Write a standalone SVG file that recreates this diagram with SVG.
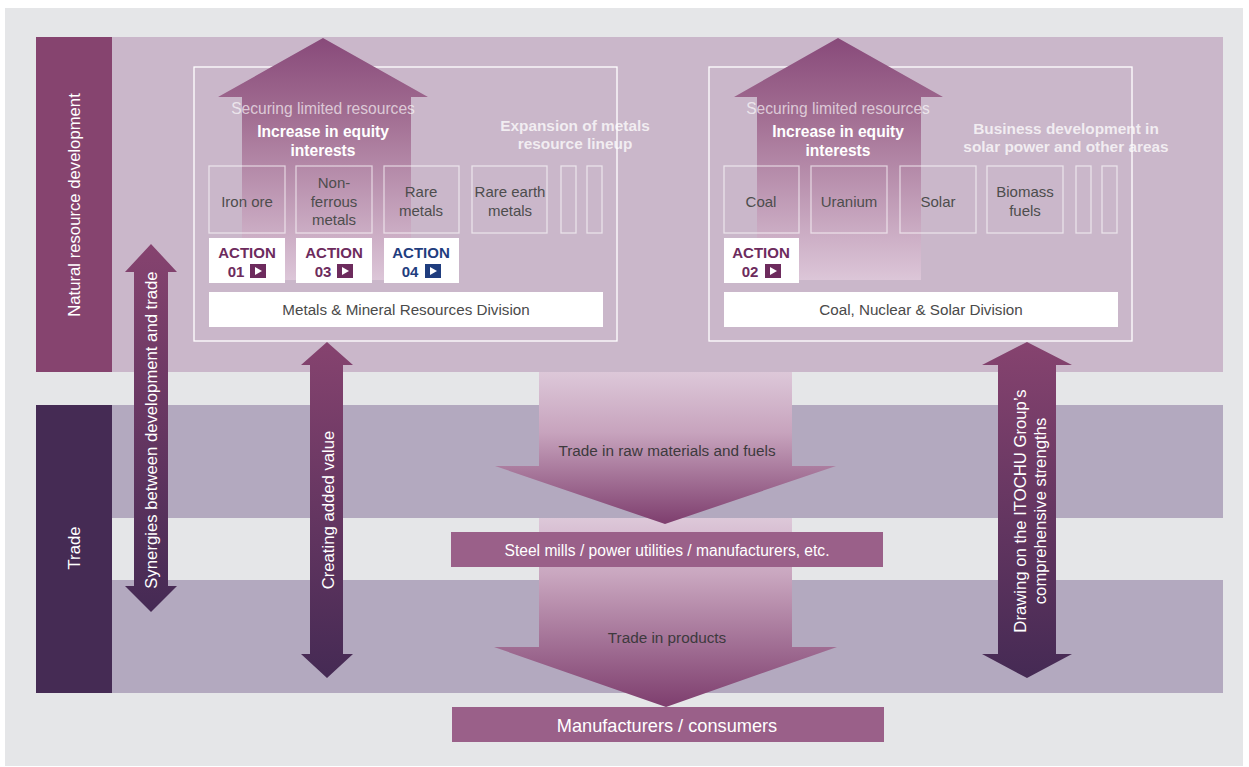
<svg xmlns="http://www.w3.org/2000/svg" width="1249" height="767" viewBox="0 0 1249 767">
<defs>
<style>
text{font-family:"Liberation Sans",Arial,Helvetica,sans-serif}
.lbl{fill:#fff;font-size:15.5px;text-anchor:middle}
.item{fill:#4d4d4d;font-size:15px;text-anchor:middle}
.ibox{fill:none;stroke:#fff;stroke-opacity:.6;stroke-width:1.3}
.frame{fill:none;stroke:#fff;stroke-width:1.3}
.white{fill:#fff}
.act{font-size:15px;font-weight:bold;text-anchor:middle}
.p{fill:#6d2b5d}
.b{fill:#1f3d7e}
.sec{fill:#fff;fill-opacity:.65;font-size:15.6px;text-anchor:middle}
.bold{fill:#fff;font-size:15.6px;font-weight:bold;text-anchor:middle}
.faint{fill:#fff;fill-opacity:.75;font-size:15.4px;font-weight:bold;text-anchor:middle}
.div{fill:#4a4a4a;font-size:15.2px;text-anchor:middle}
.dark{fill:#3d3a3d;font-size:15.3px;text-anchor:middle}
.bar{fill:#9a6089}
.rot{fill:#fff;font-size:16.7px;text-anchor:middle}
</style>
<linearGradient id="upG" x1="0" y1="0" x2="0" y2="1">
<stop offset="0" stop-color="#884a7a"/>
<stop offset="0.3" stop-color="#a06b90"/>
<stop offset="1" stop-color="#dcc6d8"/>
</linearGradient>
<linearGradient id="dnG1" gradientUnits="userSpaceOnUse" x1="0" y1="372" x2="0" y2="524">
<stop offset="0" stop-color="#ddc8d9"/>
<stop offset="0.4" stop-color="#c7a3bd"/>
<stop offset="1" stop-color="#7e3e6e"/>
</linearGradient>
<linearGradient id="dnG2" gradientUnits="userSpaceOnUse" x1="0" y1="518" x2="0" y2="707">
<stop offset="0" stop-color="#ddc8d9"/>
<stop offset="0.3" stop-color="#c9a6bf"/>
<stop offset="1" stop-color="#7e3e6e"/>
</linearGradient>
<linearGradient id="dblG" x1="0" y1="0" x2="0" y2="1">
<stop offset="0" stop-color="#86436f"/>
<stop offset="1" stop-color="#452a54"/>
</linearGradient>
</defs>
<rect width="1249" height="767" fill="#fff"/>
<rect x="5" y="8" width="1238" height="758" fill="#e5e6e8"/>

<g id="band-natural">
<rect x="112" y="37" width="1111" height="335" fill="#cab7ca"/>
<rect x="36" y="37" width="76" height="335" fill="#86446f"/>
<text class="rot" transform="translate(80,205) rotate(-90)">Natural resource development</text>
</g>
<g id="band-trade">
<rect x="112" y="405" width="1111" height="113" fill="#b3a9bf"/>
<rect x="112" y="580" width="1111" height="113" fill="#b3a9bf"/>
<rect x="36" y="405" width="76" height="288" fill="#452b54"/>
<text class="rot" transform="translate(80,548) rotate(-90)">Trade</text>
</g>

<g id="metals-division">
<rect class="frame" x="194" y="67" width="423" height="274"/>
<polygon points="323,38 428,97 411,97 411,280 242,280 242,97 218,97" fill="url(#upG)"/>
<text class="sec" x="323" y="114">Securing limited resources</text>
<text class="bold" x="323" y="137">Increase in equity</text>
<text class="bold" x="323" y="156">interests</text>
<text class="faint" x="575" y="131">Expansion of metals</text>
<text class="faint" x="575" y="149">resource lineup</text>
<rect class="ibox" x="209" y="166" width="76" height="67"/>
<rect class="ibox" x="296" y="166" width="76" height="67"/>
<rect class="ibox" x="384" y="166" width="75" height="67"/>
<rect class="ibox" x="472" y="166" width="75" height="67"/>
<rect class="ibox" x="561" y="166" width="15" height="67"/>
<rect class="ibox" x="587" y="166" width="15" height="67"/>
<text class="item" x="247" y="207">Iron ore</text>
<text class="item" x="334" y="188">Non-</text>
<text class="item" x="334" y="207">ferrous</text>
<text class="item" x="334" y="225">metals</text>
<text class="item" x="421" y="197">Rare</text>
<text class="item" x="421" y="216">metals</text>
<text class="item" x="510" y="197">Rare earth</text>
<text class="item" x="510" y="216">metals</text>
<g id="action01">
<rect class="white" x="209" y="238" width="76" height="45"/>
<text class="act p" x="247" y="258">ACTION</text>
<text class="act p" x="236" y="277">01</text>
<rect class="p" x="250" y="264" width="16" height="14"/>
<polygon class="white" points="255,267 262,271 255,275"/>
</g>
<g id="action03">
<rect class="white" x="296" y="238" width="76" height="45"/>
<text class="act p" x="334" y="258">ACTION</text>
<text class="act p" x="323" y="277">03</text>
<rect class="p" x="337" y="264" width="16" height="14"/>
<polygon class="white" points="342,267 349,271 342,275"/>
</g>
<g id="action04">
<rect class="white" x="384" y="238" width="75" height="45"/>
<text class="act b" x="421" y="258">ACTION</text>
<text class="act b" x="410" y="277">04</text>
<rect class="b" x="425" y="264" width="16" height="14"/>
<polygon class="white" points="430,267 437,271 430,275"/>
</g>
<rect class="white" x="209" y="292" width="394" height="35"/>
<text class="div" x="406" y="315">Metals &amp; Mineral Resources Division</text>
</g>

<g id="coal-division">
<rect class="frame" x="709" y="67" width="423" height="274"/>
<polygon points="838,38 943,97 921,97 921,280 757,280 757,97 734,97" fill="url(#upG)"/>
<text class="sec" x="838" y="114">Securing limited resources</text>
<text class="bold" x="838" y="137">Increase in equity</text>
<text class="bold" x="838" y="156">interests</text>
<text class="faint" x="1066" y="134">Business development in</text>
<text class="faint" x="1066" y="152">solar power and other areas</text>
<rect class="ibox" x="724" y="166" width="75" height="67"/>
<rect class="ibox" x="811" y="166" width="76" height="67"/>
<rect class="ibox" x="900" y="166" width="76" height="67"/>
<rect class="ibox" x="987" y="166" width="76" height="67"/>
<rect class="ibox" x="1076" y="166" width="15" height="67"/>
<rect class="ibox" x="1102" y="166" width="15" height="67"/>
<text class="item" x="761" y="207">Coal</text>
<text class="item" x="849" y="207">Uranium</text>
<text class="item" x="938" y="207">Solar</text>
<text class="item" x="1025" y="197">Biomass</text>
<text class="item" x="1025" y="216">fuels</text>
<g id="action02">
<rect class="white" x="724" y="238" width="75" height="45"/>
<text class="act p" x="761" y="258">ACTION</text>
<text class="act p" x="750" y="277">02</text>
<rect class="p" x="765" y="264" width="16" height="14"/>
<polygon class="white" points="770,267 777,271 770,275"/>
</g>
<rect class="white" x="724" y="292" width="394" height="35"/>
<text class="div" x="921" y="315">Coal, Nuclear &amp; Solar Division</text>
</g>

<g id="connectors">
<polygon points="539,518 792,518 792,647 837,647 666,707 494,647 539,647" fill="url(#dnG2)"/>
<polygon points="539,372 792,372 792,466 836,466 665,524 495,466 539,466" fill="url(#dnG1)"/>
<text class="dark" x="667" y="456">Trade in raw materials and fuels</text>
<text class="dark" x="667" y="643">Trade in products</text>
<polygon points="151,244 177,272 168,272 168,586 177,586 151,612 125,586 134,586 134,272 125,272" fill="url(#dblG)"/>
<text class="rot" transform="translate(157,430) rotate(-90)">Synergies between development and trade</text>
<polygon points="327,342 353,365 343,365 343,654 353,654 327,678 301,654 310,654 310,365 301,365" fill="url(#dblG)"/>
<text class="rot" transform="translate(334,510) rotate(-90)">Creating added value</text>
<polygon points="1027,342 1072,365 1056,365 1056,654 1072,654 1027,678 982,654 998,654 998,365 982,365" fill="url(#dblG)"/>
<text class="rot" transform="translate(1026,511) rotate(-90)">Drawing on the ITOCHU Group’s</text>
<text class="rot" transform="translate(1046,511) rotate(-90)">comprehensive strengths</text>
</g>

<g id="steel-mills">
<rect class="bar" x="451" y="532" width="432" height="35"/>
<text class="lbl" x="667" y="556" style="font-size:15.6px">Steel mills / power utilities / manufacturers, etc.</text>
</g>
<g id="manufacturers">
<rect class="bar" x="452" y="707" width="432" height="35"/>
<text class="lbl" x="667" y="732" style="font-size:18.2px">Manufacturers / consumers</text>
</g>
</svg>
